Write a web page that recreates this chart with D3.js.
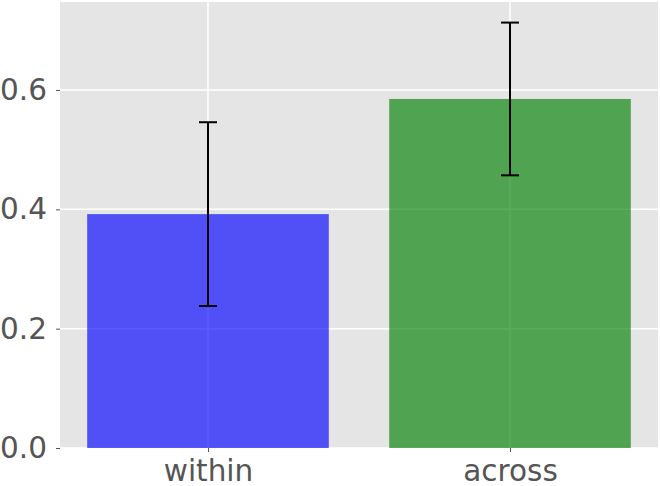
<!DOCTYPE html>
<html>
<head>
<meta charset="utf-8">
<script src="https://cdn.jsdelivr.net/npm/d3@7"></script>
<style>
  body { margin: 0; background: #fff; }
  text { font-family: "DejaVu Sans", sans-serif; }
</style>
</head>
<body>
<script>
// bar chart data
var categories = ['within', 'across'];
var means = [0.392, 0.585];
var errors = [0.154, 0.128];
var colors = ['blue', 'green'];
var yTicks = [0.0, 0.2, 0.4, 0.6];

var W = 660, H = 486;
var margins = {top: 2, bottom: 38, left: 60, right: 2};
var width = W - margins.left - margins.right;
var height = H - margins.top - margins.bottom;

// x axis runs in data units like matplotlib, bars at 0 and 1
var xScale = d3.scaleLinear()
    .domain([-0.49, 1.49])
    .range([0, width]);
var yScale = d3.scaleLinear()
    .domain([0, 0.7475])
    .range([height, 0]);

var svg = d3.select('body').append('svg')
    .attr('width', W)
    .attr('height', H)
  .append('g')
    .attr('transform', `translate(${margins.left}, ${margins.top})`);

// gray panel
svg.append('rect')
    .attr('width', width)
    .attr('height', height)
    .attr('fill', '#e5e5e5');

// grid lines
svg.selectAll('.hgrid')
    .data(yTicks)
    .enter()
  .append('line')
    .attr('x1', 0).attr('x2', width)
    .attr('y1', d => yScale(d)).attr('y2', d => yScale(d))
    .attr('stroke', '#fff').attr('stroke-width', 1.5);
svg.selectAll('.vgrid')
    .data(categories)
    .enter()
  .append('line')
    .attr('x1', (d, i) => xScale(i)).attr('x2', (d, i) => xScale(i))
    .attr('y1', 0).attr('y2', height)
    .attr('stroke', '#fff').attr('stroke-width', 1.5);

// bars
svg.selectAll('.bar')
    .data(means)
    .enter()
  .append('rect')
    .attr('x', (d, i) => xScale(i - 0.4))
    .attr('width', xScale(0.8) - xScale(0))
    .attr('y', d => yScale(d))
    .attr('height', d => yScale(0) - yScale(d))
    .attr('fill', (d, i) => colors[i])
    .attr('fill-opacity', 0.65);

// error bars
var err = svg.selectAll('.err')
    .data(means)
    .enter()
  .append('g');
err.append('line')
    .attr('x1', (d, i) => xScale(i)).attr('x2', (d, i) => xScale(i))
    .attr('y1', (d, i) => yScale(d + errors[i]))
    .attr('y2', (d, i) => yScale(d - errors[i]))
    .attr('stroke', 'black').attr('stroke-width', 2);
[1, -1].forEach(function(s) {
  err.append('line')
      .attr('x1', (d, i) => xScale(i) - 9).attr('x2', (d, i) => xScale(i) + 9)
      .attr('y1', (d, i) => yScale(d + s * errors[i]))
      .attr('y2', (d, i) => yScale(d + s * errors[i]))
      .attr('stroke', 'black').attr('stroke-width', 2);
});

// y axis
var yAxis = d3.axisLeft(yScale)
    .tickValues(yTicks)
    .tickFormat(d3.format('.1f'))
    .tickSize(4)
    .tickPadding(9);
var gy = svg.append('g').call(yAxis);
gy.select('.domain').remove();
gy.selectAll('line').attr('stroke', '#555');
gy.selectAll('text')
    .attr('fill', '#555')
    .style('font-size', '29.5px');

// x axis
var xAxis = d3.axisBottom(xScale)
    .tickValues([0, 1])
    .tickFormat((d, i) => categories[i])
    .tickSize(4)
    .tickPadding(8);
var gx = svg.append('g')
    .attr('transform', `translate(0, ${height})`)
    .call(xAxis);
gx.select('.domain').remove();
gx.selectAll('line').attr('stroke', '#555');
gx.selectAll('text')
    .attr('fill', '#555')
    .style('font-size', '29.5px');
</script>
</body>
</html>
